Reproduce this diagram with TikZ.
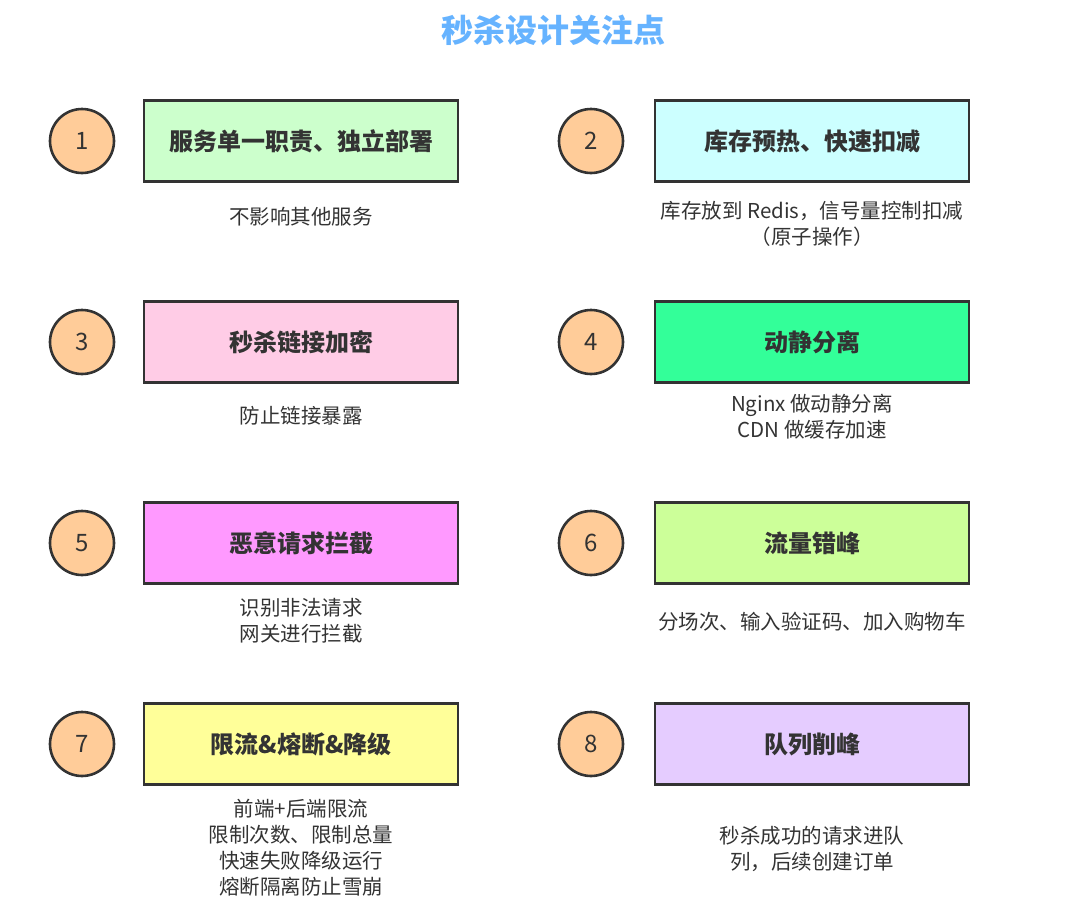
\documentclass[tikz,border=0pt]{standalone}
\usepackage{fontspec}
\setmainfont{Noto Sans CJK SC}
\usepackage{tikz}
\usetikzlibrary{positioning}
\definecolor{Ink}{HTML}{333333}
\definecolor{Title}{HTML}{66B3FF}
\definecolor{Peach}{HTML}{FFCC99}
\definecolor{Mint}{HTML}{CCFFCC}
\definecolor{Ice}{HTML}{CCFFFF}
\definecolor{Blush}{HTML}{FFCCE6}
\definecolor{Jade}{HTML}{33FF99}
\definecolor{Orchid}{HTML}{FF99FF}
\definecolor{Lime}{HTML}{CCFF99}
\definecolor{Lemon}{HTML}{FFFF99}
\definecolor{Lilac}{HTML}{E5CCFF}

\begin{document}
\begin{tikzpicture}[x=1pt,y=-1pt,
    badge/.style={circle,draw=Ink,line width=2.6pt,fill=Peach,minimum size=64pt,
      inner sep=0pt,text=Ink,font=\fontsize{24}{28}\selectfont},
    point/.style={draw=Ink,line width=2.6pt,minimum width=314pt,minimum height=81pt,
      inner sep=0pt,text=Ink,font=\fontsize{24}{28}\selectfont\bfseries},
    note/.style={align=center,text=Ink,inner sep=0pt,
      font=\fontsize{20.5}{26}\selectfont}
  ]
    \useasboundingbox (0,0) rectangle (1080,916);
    \node[text=Title,font=\fontsize{32}{36}\selectfont\bfseries] (title) at (553,30)
      {秒杀设计关注点};
    % left column
    \node[badge] (n1) at (82,141) {1};
    \node[point,fill=Mint] (p1) at (301,141) {服务单一职责、独立部署};
    \node[note] (d1) at (301,217) {不影响其他服务};
    \node[badge] (n3) at (82,342) {3};
    \node[point,fill=Blush] (p3) at (301,342) {秒杀链接加密};
    \node[note] (d3) at (301,416) {防止链接暴露};
    \node[badge] (n5) at (82,543) {5};
    \node[point,fill=Orchid] (p5) at (301,543) {恶意请求拦截};
    \node[note] (d5) at (301,621) {识别非法请求\\网关进行拦截};
    \node[badge] (n7) at (82,744) {7};
    \node[point,fill=Lemon] (p7) at (301,744) {限流\&熔断\&降级};
    \node[note] (d7) at (301,848)
      {前端+后端限流\\限制次数、限制总量\\快速失败降级运行\\熔断隔离防止雪崩};
    % right column
    \node[badge] (n2) at (591,141) {2};
    \node[point,fill=Ice] (p2) at (812,141) {库存预热、快速扣减};
    \node[note] (d2) at (812,224) {库存放到 Redis，信号量控制扣减\\（原子操作）};
    \node[badge] (n4) at (591,342) {4};
    \node[point,fill=Jade] (p4) at (812,342) {动静分离};
    \node[note] (d4) at (812,417) {Nginx 做动静分离\\CDN 做缓存加速};
    \node[badge] (n6) at (591,543) {6};
    \node[point,fill=Lime] (p6) at (812,543) {流量错峰};
    \node[note] (d6) at (812,622) {分场次、输入验证码、加入购物车};
    \node[badge] (n8) at (591,744) {8};
    \node[point,fill=Lilac] (p8) at (812,744) {队列削峰};
    \node[note] (d8) at (812,849) {秒杀成功的请求进队\\列，后续创建订单};
  \end{tikzpicture}
\end{document}
